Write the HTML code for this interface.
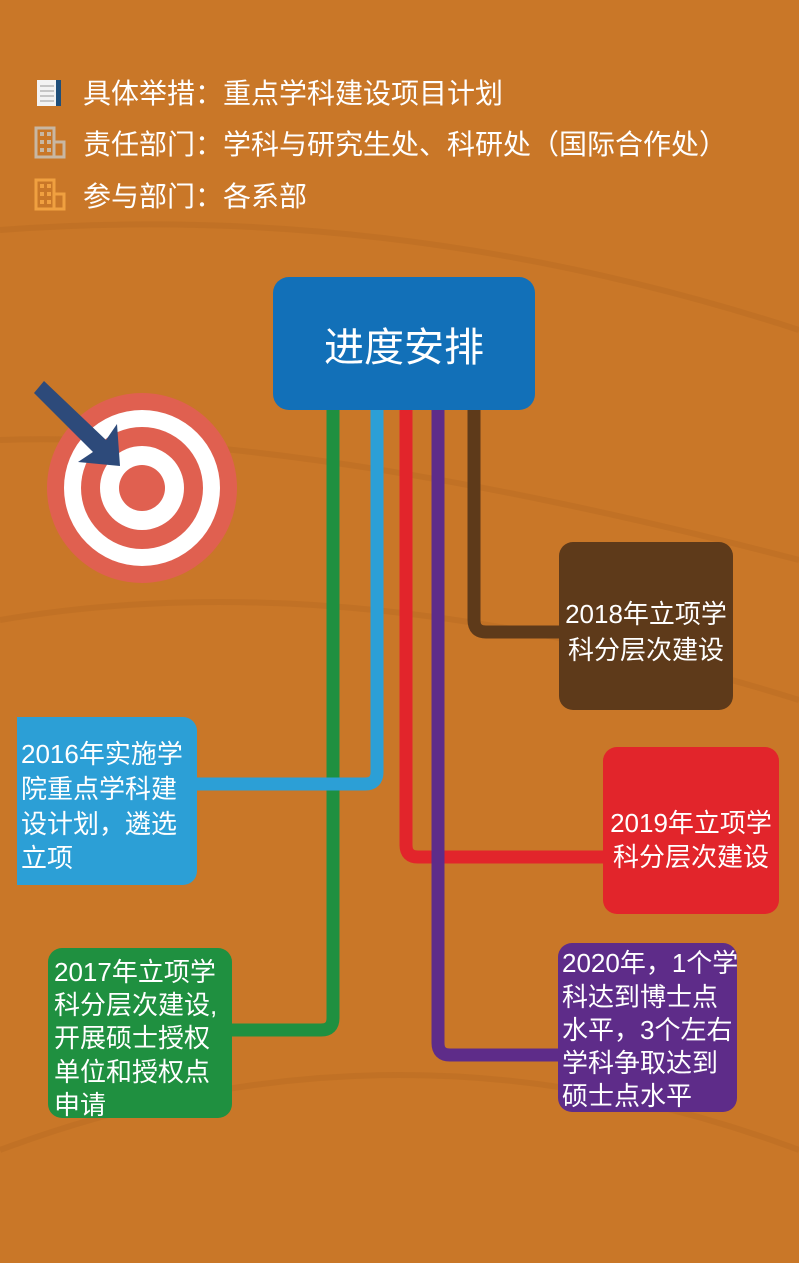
<!DOCTYPE html>
<html><head><meta charset="utf-8"><style>
html,body{margin:0;padding:0;}
body{width:799px;height:1258px;overflow:hidden;background:#c97728;}
svg text{font-family:"Liberation Sans","Noto Sans CJK SC",sans-serif;}
</style></head><body>
<svg width="799" height="1258" viewBox="0 0 799 1258" xmlns="http://www.w3.org/2000/svg">
<rect width="799" height="1258" fill="#c97728"/>
<g fill="none" stroke="#b86a22" stroke-opacity="0.45" stroke-width="6">
<path d="M0 440 Q300 430 799 560"/>
<path d="M0 230 Q400 200 799 330"/>
<path d="M0 620 Q350 560 799 700"/>
<path d="M0 1150 Q400 1000 799 1150"/>
</g>
<g>
<rect x="37" y="80" width="22" height="26" fill="#f3f3f3"/>
<rect x="56" y="80" width="5" height="26" fill="#1f4f7a"/>
<g stroke="#999" stroke-width="1"><line x1="40" y1="86" x2="54" y2="86"/><line x1="40" y1="91" x2="54" y2="91"/><line x1="40" y1="96" x2="54" y2="96"/><line x1="40" y1="101" x2="54" y2="101"/></g>
<text x="83" y="103" font-size="28" fill="#fff">具体举措：重点学科建设项目计划</text>
<g fill="none" stroke="#c8b7a3" stroke-width="3"><rect x="36" y="128" width="18" height="29"/><rect x="54" y="142" width="10" height="15"/></g>
<g fill="#c8b7a3"><rect x="40" y="132" width="4" height="4"/><rect x="47" y="132" width="4" height="4"/><rect x="40" y="140" width="4" height="4"/><rect x="47" y="140" width="4" height="4"/><rect x="40" y="148" width="4" height="4"/><rect x="47" y="148" width="4" height="4"/></g>
<text x="83" y="154" font-size="28" fill="#fff">责任部门：学科与研究生处、科研处（国际合作处）</text>
<g fill="none" stroke="#f0a040" stroke-width="3"><rect x="36" y="180" width="18" height="29"/><rect x="54" y="194" width="10" height="15"/></g>
<g fill="#f0a040"><rect x="40" y="184" width="4" height="4"/><rect x="47" y="184" width="4" height="4"/><rect x="40" y="192" width="4" height="4"/><rect x="47" y="192" width="4" height="4"/><rect x="40" y="200" width="4" height="4"/><rect x="47" y="200" width="4" height="4"/></g>
<text x="83" y="206" font-size="28" fill="#fff">参与部门：各系部</text>
</g>
<circle cx="142" cy="488" r="95" fill="#e06050"/>
<circle cx="142" cy="488" r="78" fill="#fff"/>
<circle cx="142" cy="488" r="61" fill="#e06050"/>
<circle cx="142" cy="488" r="42" fill="#fff"/>
<circle cx="142" cy="488" r="23" fill="#e06050"/>
<path d="M34 393 L44 381 L106 440 L117 424 L120 466 L78 462 L93 452 Z" fill="#2d4a7a"/>
<g fill="none" stroke-width="13" stroke-linejoin="round">
<path d="M333 405 V1018 Q333 1030 321 1030 H225" stroke="#1f9040"/>
<path d="M377 405 V772 Q377 784 365 784 H190" stroke="#2c9fd6"/>
<path d="M406 405 V845 Q406 857 418 857 H610" stroke="#e2252b"/>
<path d="M438 405 V1043 Q438 1055 450 1055 H565" stroke="#5e2c89"/>
<path d="M474 405 V620 Q474 632 486 632 H565" stroke="#5e3a1a"/>
</g>
<rect x="273" y="277" width="262" height="133" rx="16" fill="#1270b8"/>
<text x="404" y="361" font-size="40" fill="#fff" text-anchor="middle">进度安排</text>
<rect x="559" y="542" width="174" height="168" rx="14" fill="#5e3a1a"/>
<text font-size="26" fill="#fff" text-anchor="middle"><tspan x="646" y="623">2018年立项学</tspan><tspan x="646" y="659">科分层次建设</tspan></text>
<rect x="17" y="717" width="180" height="168" rx="14" fill="#2c9fd6"/>
<rect x="17" y="717" width="20" height="168" fill="#2c9fd6"/>
<text font-size="26" fill="#fff"><tspan x="21" y="763">2016年实施学</tspan><tspan x="21" y="798">院重点学科建</tspan><tspan x="21" y="833">设计划，遴选</tspan><tspan x="21" y="867">立项</tspan></text>
<rect x="603" y="747" width="176" height="167" rx="14" fill="#e2252b"/>
<text font-size="26" fill="#fff" text-anchor="middle"><tspan x="691" y="832">2019年立项学</tspan><tspan x="691" y="866">科分层次建设</tspan></text>
<rect x="48" y="948" width="184" height="170" rx="14" fill="#1f9040"/>
<text font-size="26" fill="#fff"><tspan x="54" y="981">2017年立项学</tspan><tspan x="54" y="1014">科分层次建设,</tspan><tspan x="54" y="1047">开展硕士授权</tspan><tspan x="54" y="1081">单位和授权点</tspan><tspan x="54" y="1114">申请</tspan></text>
<rect x="558" y="943" width="179" height="169" rx="14" fill="#5e2c89"/>
<text font-size="26" fill="#fff"><tspan x="562" y="972">2020年，1个学</tspan><tspan x="562" y="1006">科达到博士点</tspan><tspan x="562" y="1039">水平，3个左右</tspan><tspan x="562" y="1072">学科争取达到</tspan><tspan x="562" y="1105">硕士点水平</tspan></text>
</svg>
</body></html>
